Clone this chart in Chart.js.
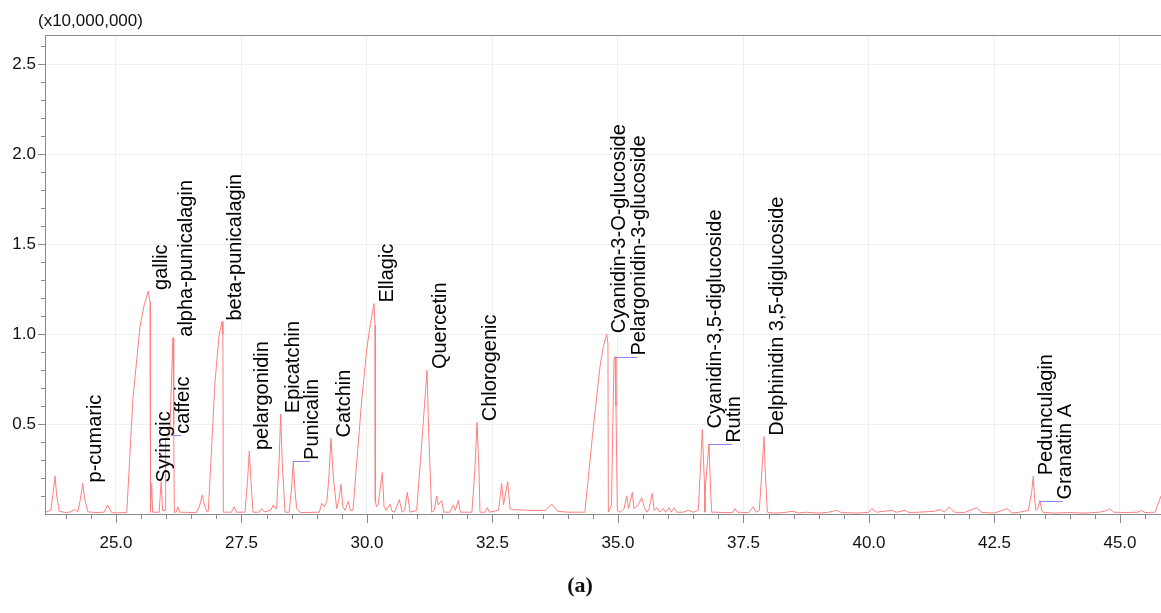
<!DOCTYPE html>
<html>
<head>
<meta charset="utf-8">
<script src="https://cdn.jsdelivr.net/npm/chart.js@4.4.1/dist/chart.umd.min.js"></script>
<style>
  html, body { margin: 0; padding: 0; background: #fff; }
  #wrap { width: 1161px; height: 613px; position: relative; }
</style>
</head>
<body>
<div id="wrap"><canvas id="chromChart" width="1161" height="613"></canvas></div>
<script>
// retention time (min) and intensity (x10,000,000)
const rt = [
  23.59, 23.70, 23.75, 23.785, 23.82, 23.87, 24.00, 24.10, 24.18, 24.24,
  24.29, 24.337, 24.38, 24.44, 24.60, 24.76, 24.80, 24.835, 24.87, 24.92,
  25.215, 25.34, 25.478, 25.56, 25.644, 25.678, 25.680, 25.695, 25.711, 25.73,
  25.86, 25.90, 25.93, 25.98, 25.99, 26.07, 26.136, 26.15, 26.162, 26.20,
  26.235, 26.27, 26.60, 26.66, 26.719, 26.77, 26.82, 26.84, 26.972, 27.052,
  27.112, 27.13, 27.138, 27.30, 27.357, 27.40, 27.57, 27.62, 27.656, 27.69,
  27.73, 27.85, 27.903, 27.95, 28.08, 28.134, 28.18, 28.20, 28.25, 28.281,
  28.31, 28.367, 28.45, 28.50, 28.532, 28.56, 28.60, 28.63, 28.68, 29.05,
  29.10, 29.15, 29.20, 29.24, 29.283, 29.33, 29.397, 29.44, 29.483, 29.52,
  29.562, 29.628, 29.67, 29.72, 29.80, 29.90, 29.995, 30.07, 30.14, 30.16,
  30.166, 30.19, 30.22, 30.305, 30.34, 30.38, 30.459, 30.50, 30.55, 30.644,
  30.70, 30.75, 30.803, 30.86, 30.99, 31.08, 31.15, 31.196, 31.23, 31.289,
  31.34, 31.389, 31.42, 31.488, 31.53, 31.65, 31.719, 31.76, 31.819, 31.86,
  32.09, 32.15, 32.192, 32.23, 32.251, 32.35, 32.397, 32.44, 32.62, 32.684,
  32.72, 32.803, 32.85, 32.90, 33.247, 33.55, 33.68, 33.80, 34.00, 34.34,
  34.49, 34.642, 34.708, 34.775, 34.80, 34.808, 34.87, 34.92, 34.941, 34.96,
  34.987, 35.05, 35.12, 35.174, 35.21, 35.23, 35.285, 35.32, 35.40, 35.472,
  35.52, 35.58, 35.62, 35.684, 35.72, 35.78, 35.83, 35.90, 35.95, 36.02,
  36.06, 36.12, 36.17, 36.30, 36.40, 36.50, 36.60, 36.68, 36.725, 36.733,
  36.74, 36.813, 36.85, 36.867, 36.95, 37.10, 37.28, 37.331, 37.38, 37.60,
  37.696, 37.75, 37.815, 37.87, 37.909, 37.94, 37.975, 38.10, 38.30, 38.486,
  38.60, 38.75, 39.00, 39.20, 39.357, 39.45, 39.80, 40.00, 40.054, 40.15,
  40.30, 40.452, 40.55, 40.717, 40.80, 41.00, 41.30, 41.414, 41.50, 41.594,
  41.70, 41.90, 42.146, 42.25, 42.50, 42.755, 42.85, 43.00, 43.174, 43.24,
  43.273, 43.30, 43.327, 43.36, 43.407, 43.44, 43.466, 43.70, 44.00, 44.30,
  44.60, 44.75, 44.801, 44.87, 45.10, 45.35, 45.432, 45.50, 45.70, 45.75,
  45.817
];
const intensity = [
  0.010, 0.020, 0.12, 0.21, 0.10, 0.015, 0.008, 0.012, 0.025, 0.012,
  0.08, 0.17, 0.08, 0.012, 0.008, 0.010, 0.03, 0.05, 0.03, 0.006,
  0.008, 0.65, 1.04, 1.16, 1.24, 1.18, 0.01, 0.01, 0.17, 0.01,
  0.01, 0.18, 0.02, 0.02, 0.42, 0.44, 0.98, 0.50, 0.01, 0.01,
  0.04, 0.01, 0.008, 0.04, 0.105, 0.04, 0.01, 0.02, 0.73, 0.99,
  1.07, 1.00, 0.01, 0.01, 0.04, 0.01, 0.01, 0.18, 0.35, 0.18,
  0.01, 0.01, 0.03, 0.012, 0.02, 0.05, 0.03, 0.03, 0.30, 0.555,
  0.30, 0.01, 0.01, 0.15, 0.295, 0.15, 0.03, 0.02, 0.008, 0.01,
  0.06, 0.04, 0.07, 0.20, 0.42, 0.20, 0.03, 0.08, 0.165, 0.04,
  0.02, 0.07, 0.02, 0.02, 0.30, 0.65, 0.915, 1.06, 1.17, 1.05,
  0.07, 0.04, 0.05, 0.23, 0.04, 0.02, 0.055, 0.015, 0.01, 0.08,
  0.01, 0.02, 0.12, 0.01, 0.02, 0.35, 0.62, 0.80, 0.45, 0.01,
  0.02, 0.10, 0.05, 0.075, 0.01, 0.01, 0.05, 0.02, 0.075, 0.01,
  0.01, 0.25, 0.51, 0.25, 0.01, 0.01, 0.035, 0.01, 0.02, 0.17,
  0.05, 0.18, 0.03, 0.025, 0.02, 0.02, 0.055, 0.015, 0.01, 0.01,
  0.43, 0.82, 0.93, 1.00, 0.95, 0.01, 0.05, 0.85, 0.875, 0.60,
  0.02, 0.01, 0.03, 0.10, 0.03, 0.05, 0.12, 0.03, 0.05, 0.09,
  0.04, 0.01, 0.03, 0.115, 0.02, 0.035, 0.01, 0.03, 0.01, 0.035,
  0.01, 0.035, 0.01, 0.01, 0.02, 0.01, 0.02, 0.47, 0.15, 0.01,
  0.15, 0.39, 0.10, 0.01, 0.01, 0.008, 0.008, 0.03, 0.01, 0.008,
  0.04, 0.01, 0.02, 0.25, 0.43, 0.20, 0.01, 0.005, 0.008, 0.015,
  0.005, 0.01, 0.005, 0.01, 0.02, 0.008, 0.005, 0.01, 0.03, 0.01,
  0.015, 0.02, 0.01, 0.02, 0.008, 0.01, 0.015, 0.025, 0.01, 0.04,
  0.01, 0.008, 0.035, 0.008, 0.005, 0.03, 0.005, 0.01, 0.02, 0.12,
  0.21, 0.08, 0.02, 0.03, 0.075, 0.02, 0.008, 0.005, 0.008, 0.005,
  0.01, 0.02, 0.03, 0.01, 0.008, 0.01, 0.02, 0.008, 0.01, 0.05,
  0.10
];

// identified peaks
const peakNames = [
  "p-cumaric", "gallic", "Syringic", "caffeic", "alpha-punicalagin",
  "beta-punicalagin", "pelargonidin", "Epicatchin", "Punicalin", "Catchin",
  "Ellagic", "Quercetin", "Chlorogenic", "Cyanidin-3-O-glucoside",
  "Pelargonidin-3-glucoside", "Cyanidin-3,5-diglucoside", "Rutin",
  "Delphinidin 3,5-diglucoside", "Pedunculagin", "Granatin A"
];
const peakRt = [
  24.337, 25.644, 25.711, 26.10, 26.136, 27.112, 27.656, 28.281, 28.532, 29.283,
  30.14, 31.196, 32.192, 34.775, 34.941, 36.68, 36.813, 37.909, 43.273, 43.407
];
const peakHeight = [
  0.17, 1.24, 0.17, 0.44, 0.98, 1.07, 0.35, 0.555, 0.295, 0.42,
  1.17, 0.80, 0.51, 1.00, 0.875, 0.47, 0.39, 0.43, 0.21, 0.075
];

const xTickLabels = [25.0, 27.5, 30.0, 32.5, 35.0, 37.5, 40.0, 42.5, 45.0];
const yTickLabels = [0.5, 1.0, 1.5, 2.0, 2.5];

const sans = "'Liberation Sans', Arial, sans-serif";
const axisGray = "#8a8a8a";

// tick marks, top border, scale note and caption
const frame = {
  id: "frame",
  afterDraw(chart) {
    const { ctx, chartArea: a, scales: { x, y } } = chart;
    ctx.save();
    ctx.strokeStyle = axisGray;
    ctx.lineWidth = 1;
    ctx.beginPath();
    ctx.moveTo(a.left, a.top + 0.5);
    ctx.lineTo(a.right, a.top + 0.5);
    for (let i = 1; i <= 26; i++) {
      const py = Math.round(y.getPixelForValue(i / 10)) + 0.5;
      const len = i % 5 === 0 ? 7 : 4;
      ctx.moveTo(a.left - len, py);
      ctx.lineTo(a.left, py);
    }
    for (let t = 24; t <= 45.5; t += 0.5) {
      const px = Math.round(x.getPixelForValue(t)) + 0.5;
      const len = (t * 2) % 5 === 0 ? 9 : 5;
      ctx.moveTo(px, a.bottom);
      ctx.lineTo(px, a.bottom + len);
    }
    ctx.stroke();

    ctx.fillStyle = "#111";
    ctx.font = "17px " + sans;
    ctx.textAlign = "left";
    ctx.textBaseline = "middle";
    ctx.fillText("(x10,000,000)", 38, 21);

    ctx.font = "bold 22px 'Liberation Serif', 'DejaVu Serif', serif";
    ctx.textAlign = "center";
    ctx.fillText("(a)", 580, 586);
    ctx.restore();
  }
};

// rotated peak names, some with a blue leader line
const peakLabels = {
  id: "peakLabels",
  afterDatasetsDraw(chart, args, opts) {
    const { ctx, scales: { x, y } } = chart;
    ctx.save();
    ctx.font = "20px " + sans;
    ctx.textAlign = "left";
    ctx.textBaseline = "middle";
    peakNames.forEach((name, i) => {
      const px = x.getPixelForValue(peakRt[i]);
      const py = y.getPixelForValue(peakHeight[i]);
      const lead = opts.leaders[name];
      let tx = px + 13;
      if (lead) {
        ctx.strokeStyle = "#8888ff";
        ctx.lineWidth = 1;
        ctx.beginPath();
        ctx.moveTo(px, Math.round(py) + 0.5);
        ctx.lineTo(px + lead, Math.round(py) + 0.5);
        ctx.stroke();
        tx = px + lead + 2;
      }
      ctx.save();
      ctx.fillStyle = "#000";
      ctx.translate(tx, py - 1);
      ctx.rotate(-Math.PI / 2);
      ctx.fillText(name, 0, 0);
      ctx.restore();
    });
    ctx.restore();
  }
};

new Chart(document.getElementById("chromChart"), {
  type: "line",
  data: {
    datasets: [
      {
        data: rt.map((t, i) => ({ x: t, y: intensity[i] })),
        borderColor: "#ff7f7f",
        borderWidth: 1,
        pointRadius: 0,
        tension: 0,
        fill: false,
      },
    ],
  },
  options: {
    responsive: false,
    animation: false,
    layout: { padding: { top: 35, left: 0, right: 0, bottom: 59 } },
    plugins: {
      legend: { display: false },
      tooltip: { enabled: false },
      peakLabels: {
        leaders: {
          caffeic: 10,
          Punicalin: 17,
          "Pelargonidin-3-glucoside": 22,
          Rutin: 23,
          "Granatin A": 23,
        },
      },
    },
    scales: {
      x: {
        type: "linear",
        min: 23.586,
        max: 45.817,
        afterBuildTicks: (s) => { s.ticks = xTickLabels.map((v) => ({ value: v })); },
        afterFit: (s) => { s.height = 40; },
        grid: { color: "#efefef", drawTicks: false },
        border: { color: axisGray },
        ticks: {
          color: "#111",
          padding: 19,
          maxRotation: 0,
          font: { size: 17, family: sans },
          callback: (v) => Number(v).toFixed(1),
        },
      },
      y: {
        min: 0,
        max: 2.663,
        afterBuildTicks: (s) => { s.ticks = yTickLabels.map((v) => ({ value: v })); },
        afterFit: (s) => { s.width = 45; },
        grid: { color: "#efefef", drawTicks: false },
        border: { color: axisGray },
        ticks: {
          color: "#111",
          padding: 9,
          font: { size: 17, family: sans },
          callback: (v) => Number(v).toFixed(1),
        },
      },
    },
  },
  plugins: [frame, peakLabels],
});
</script>
</body>
</html>
